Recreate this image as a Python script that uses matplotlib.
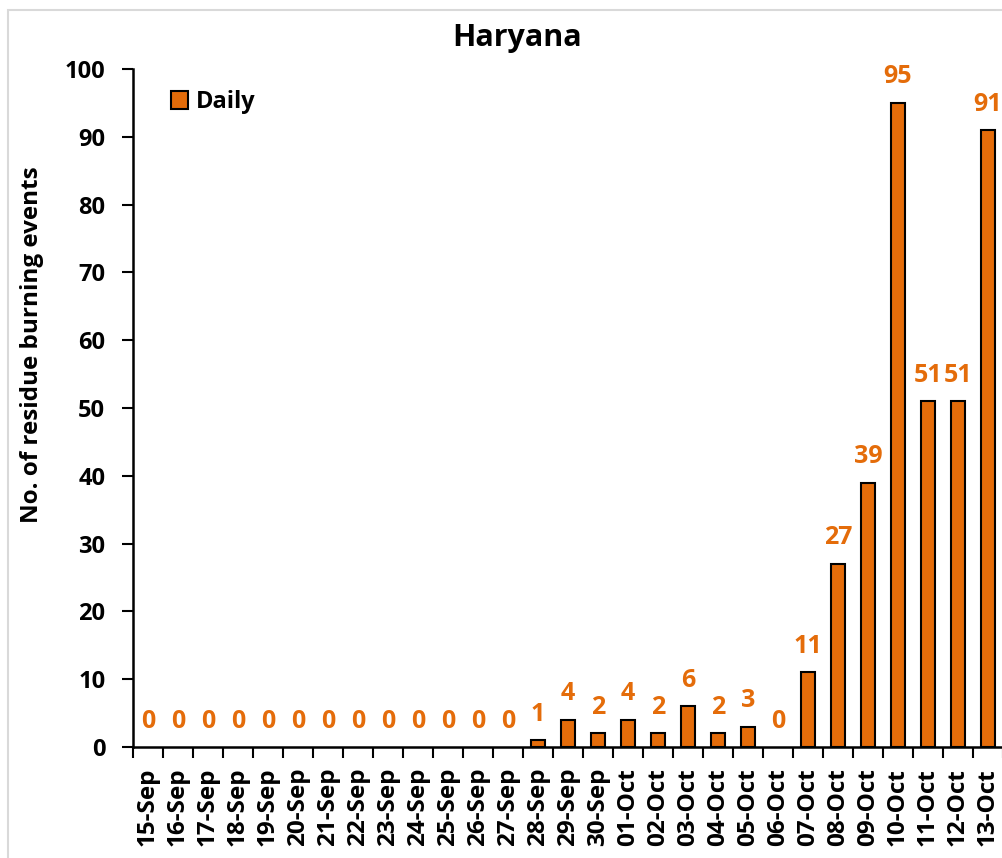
import matplotlib
matplotlib.use("Agg")
import matplotlib.pyplot as plt
from matplotlib.patches import Rectangle, Patch
import numpy as np

dates = ["15-Sep", "16-Sep", "17-Sep", "18-Sep", "19-Sep", "20-Sep", "21-Sep", "22-Sep",
         "23-Sep", "24-Sep", "25-Sep", "26-Sep", "27-Sep", "28-Sep", "29-Sep", "30-Sep",
         "01-Oct", "02-Oct", "03-Oct", "04-Oct", "05-Oct", "06-Oct", "07-Oct", "08-Oct",
         "09-Oct", "10-Oct", "11-Oct", "12-Oct", "13-Oct"]
daily = [0, 0, 0, 0, 0, 0, 0, 0, 0, 0, 0, 0, 0, 1, 4, 2, 4, 2, 6, 2, 3, 0, 11, 27,
         39, 95, 51, 51, 91]
yticks = list(range(0, 101, 10))

plt.rcParams['font.family'] = ['Open Sans', 'DejaVu Sans']
plt.rcParams['font.weight'] = 'bold'

bar_color = "#E46C0A"
fig = plt.figure(figsize=(10.02, 8.58), dpi=100)
W, H = 1002, 858
fig.patches.append(Rectangle((8 / W, -0.1), 1.2, (H - 10) / H + 0.1, transform=fig.transFigure,
                             fill=False, edgecolor="#D9D9D9", linewidth=1.5))
ax = fig.add_axes([133 / W, 111 / H, 870 / W, 678 / H])

x = np.arange(len(dates))
bars = ax.bar(x, daily, width=0.45, color=bar_color, edgecolor="black", linewidth=1.5,
              zorder=3)
for b, v in zip(bars, daily):
    if v == 0:
        b.set_linewidth(0)
for xi, v in zip(x, daily):
    ax.annotate(str(v), (xi, v), xytext=(0, 14), textcoords="offset points",
                ha="center", va="baseline", color=bar_color, fontsize=18, fontweight="bold")

ax.set_xlim(-0.5, len(dates) - 0.5)
ax.set_ylim(0, 100)
ax.set_yticks(yticks)
ax.set_yticklabels([str(t) for t in yticks], fontsize=17, fontweight="bold")
ax.set_xticks(x)
ax.set_xticklabels(dates, rotation=90, fontsize=17.5, fontweight="bold")
ax.tick_params(axis="x", length=0, pad=15)
ax.set_xticks(np.arange(-0.5, len(dates), 1), minor=True)
ax.tick_params(axis="x", which="minor", length=8, width=1.5, direction="out")
ax.tick_params(axis="y", length=8, width=1.5, direction="out", pad=12)
for s in ["top", "right"]:
    ax.spines[s].set_visible(False)
for s in ["left", "bottom"]:
    ax.spines[s].set_linewidth(1.8)

ax.set_ylabel("No. of residue burning events", fontsize=17.5, fontweight="bold")
ax.yaxis.set_label_coords(-0.102, (747 - 345) / 678)
fig.text(517 / W, 1 - 38 / H, "Haryana", ha="center", va="center", fontsize=22,
         fontweight="bold")

handle = Patch(facecolor=bar_color, edgecolor="black", linewidth=1.5, label="Daily")
leg = ax.legend(handles=[handle], loc="upper left", bbox_to_anchor=(0.019, 1.0), frameon=False,
                prop={"size": 17, "weight": "bold"}, handlelength=0.75, handleheight=0.75,
                handletextpad=0.3)

fig.savefig("out.png", dpi=100)
